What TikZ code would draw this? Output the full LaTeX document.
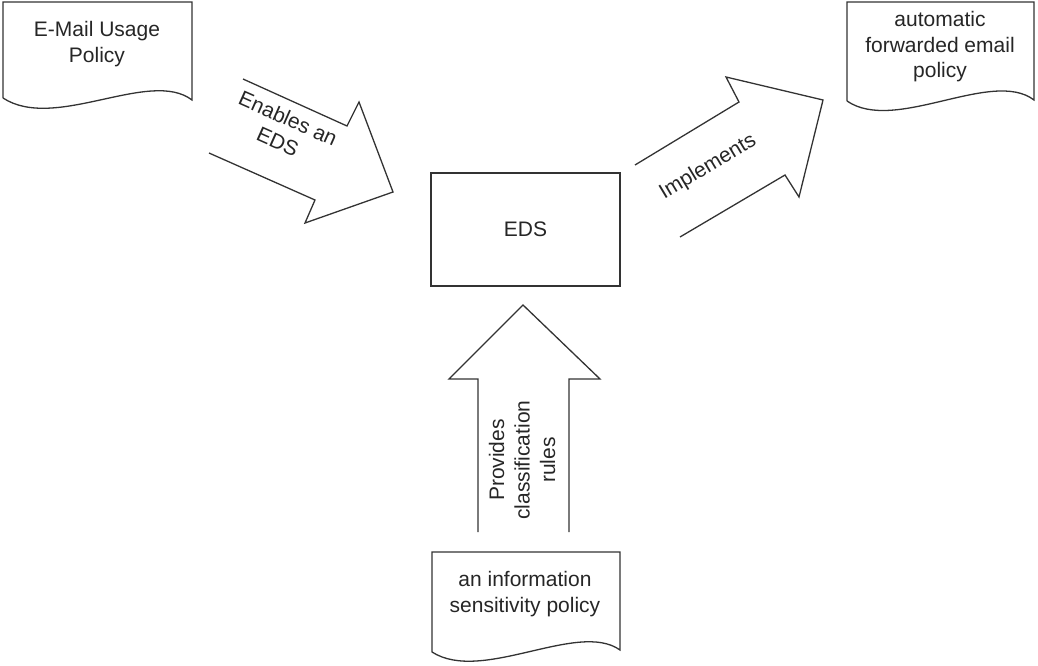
\documentclass[tikz,border=0pt]{standalone}
\usepackage{fontspec}
\setmainfont{Liberation Sans}
\begin{document}
\begin{tikzpicture}[x=1pt,y=-1pt,
  outline/.style={draw=black!80,line width=1.3pt,line join=miter},
  label/.style={text=black!85,align=center,font=\fontsize{21}{25.5}\selectfont,inner sep=0pt},
  docshape/.style={outline,fill=white}]
\useasboundingbox (0,0) rectangle (1038,666);

% document shapes: flat top, wavy bottom
\draw[docshape] (3,98) -- (3,2) -- (192,2) -- (192,100)
  .. controls (150,68) and (55,132) .. (3,98);
\node[label] (usage) at (97,44) {E-Mail Usage\\Policy};

\draw[docshape] (847,101) -- (847,2) -- (1034,2) -- (1034,100)
  .. controls (992,68) and (895,134) .. (847,101);
\node[label] (fwd) at (940,47) {automatic\\forwarded email\\policy};

\draw[docshape] (432,652) -- (432,552) -- (620,552) -- (620,650)
  .. controls (578,620) and (482,684) .. (432,652);
\node[label] (info) at (525,594) {an information\\sensitivity policy};

% central box
\node[outline,fill=white,minimum width=189pt,minimum height=113pt,
  label/.append style={}] (eds) at (525.5,229.5) {};
\node[label] at (eds.center) {EDS};

% block arrows (open tails)
\draw[outline] (243,79) -- (347,126) -- (359,102) -- (393,192) -- (305,223) -- (315,200) -- (209,153);
\node[label,rotate=-24] (enables) at (283,130) {Enables an\\EDS};

\draw[outline] (635,165) -- (739,102) -- (726,77) -- (823,100) -- (799,197) -- (785,175) -- (680,237);
\node[label,rotate=31] (impl) at (708,167) {Implements};

\draw[outline] (478,532) -- (478,379) -- (449,379) -- (523,305) -- (600,379) -- (569,379) -- (569,532);
\node[label,rotate=90] (rules) at (522,460) {Provides\\classification\\rules};
\end{tikzpicture}
\end{document}
